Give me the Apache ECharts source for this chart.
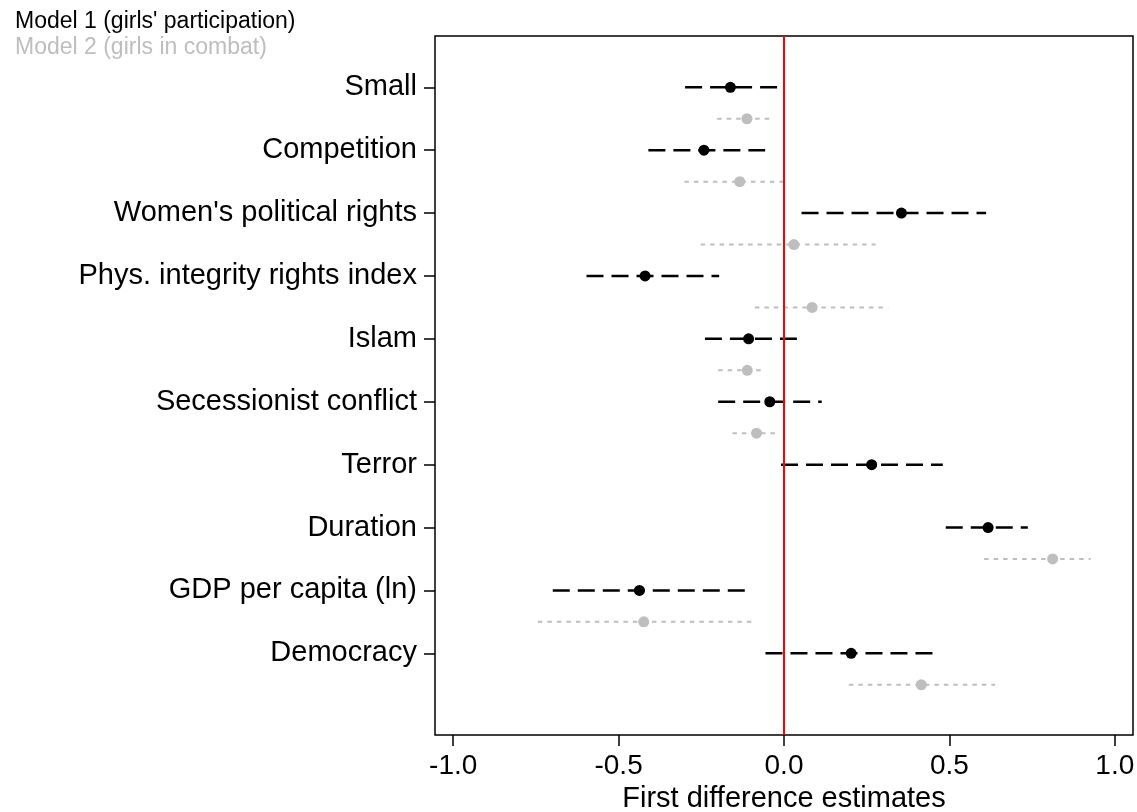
<!DOCTYPE html>
<html>
<head>
<meta charset="utf-8">
<script src="https://cdn.jsdelivr.net/npm/echarts@6/dist/echarts.min.js"></script>
<style>
html,body{margin:0;padding:0;background:#fff;}
#chart{width:1137px;height:812px;}
</style>
</head>
<body>
<div id="chart"></div>
<script>
// ---- data ----
const categories = ["Small","Competition","Women's political rights","Phys. integrity rights index","Islam","Secessionist conflict","Terror","Duration","GDP per capita (ln)","Democracy"];
const m1Est = [-0.162,-0.242,0.355,-0.420,-0.107,-0.043,0.265,0.617,-0.437,0.203];
const m1Lo  = [-0.299,-0.410,0.053,-0.597,-0.239,-0.199,-0.009,0.489,-0.699,-0.056];
const m1Hi  = [-0.020,-0.057,0.611,-0.196,0.039,0.114,0.480,0.737,-0.112,0.454];
const m2Est = [-0.112,-0.134,0.030,0.085,-0.111,-0.083,null,0.812,-0.424,0.415];
const m2Lo  = [-0.202,-0.301,-0.252,-0.088,-0.199,-0.156,null,0.605,-0.744,0.196];
const m2Hi  = [-0.044,-0.003,0.277,0.315,-0.066,-0.022,null,0.927,-0.092,0.638];
const xTicks = [-1.0,-0.5,0.0,0.5,1.0];
const legendLabels = ["Model 1 (girls' participation)","Model 2 (girls in combat)"];
const xName = "First difference estimates";

const FONT = "'Liberation Sans', Arial, Helvetica, sans-serif";
const M2_OFFSET = 0.5;

function ciData(lo, hi, offset){
  const out = [];
  for (let i = 0; i < lo.length; i++) {
    if (lo[i] == null) continue;
    out.push([lo[i], hi[i], i + offset]);
  }
  return out;
}
function ptData(est, offset){
  const out = [];
  for (let i = 0; i < est.length; i++) {
    if (est[i] == null) continue;
    out.push([est[i], i + offset]);
  }
  return out;
}
function ciSeries(data, color, width, dash){
  return {
    type: 'custom',
    data: data,
    encode: {x: [0, 1], y: 2},
    silent: true,
    z: 2,
    renderItem: function(params, api){
      const a = api.coord([api.value(0), api.value(2)]);
      const b = api.coord([api.value(1), api.value(2)]);
      return {
        type: 'line',
        shape: {x1: a[0], y1: a[1], x2: b[0], y2: b[1]},
        style: {stroke: color, lineWidth: width, lineDash: dash, fill: null}
      };
    }
  };
}

const chart = echarts.init(document.getElementById('chart'), null, {renderer: 'canvas'});
chart.setOption({
  animation: false,
  backgroundColor: '#ffffff',
  title: [
    {text: legendLabels[0], left: 10, top: 5, textStyle: {fontFamily: FONT, fontSize: 23, fontWeight: 'normal', color: '#000000'}},
    {text: legendLabels[1], left: 10, top: 31, textStyle: {fontFamily: FONT, fontSize: 23, fontWeight: 'normal', color: '#BEBEBE'}}
  ],
  grid: {left: 435, right: 4, top: 36, bottom: 77, show: true, borderColor: '#000', borderWidth: 1.5, containLabel: false, outerBoundsMode: 'none'},
  xAxis: {
    type: 'value', min: -1.055, max: 1.055,
    axisLine: {show: false, onZero: false},
    splitLine: {show: false},
    axisTick: {show: true, customValues: xTicks, length: 11, lineStyle: {color: '#000', width: 1.5}},
    axisLabel: {customValues: xTicks, formatter: v => v.toFixed(1), fontFamily: FONT, fontSize: 28, color: '#000', margin: 17},
    name: xName, nameLocation: 'middle', nameGap: 49,
    nameTextStyle: {fontFamily: FONT, fontSize: 29, color: '#000'}
  },
  yAxis: {
    type: 'value', inverse: true, min: -0.816, max: 10.299,
    axisLine: {show: false, onZero: false},
    splitLine: {show: false},
    axisTick: {show: true, customValues: categories.map((c, i) => i), length: 11, lineStyle: {color: '#000', width: 1.5}},
    axisLabel: {customValues: categories.map((c, i) => i), formatter: v => categories[Math.round(v)], fontFamily: FONT, fontSize: 29, color: '#000', margin: 18}
  },
  series: [
    ciSeries(ciData(m1Lo, m1Hi, 0), '#000000', 2.5, [17, 8]),
    ciSeries(ciData(m2Lo, m2Hi, M2_OFFSET), '#BEBEBE', 2, [4.5, 5]),
    {
      type: 'scatter', data: ptData(m1Est, 0), symbol: 'circle', symbolSize: 11,
      itemStyle: {color: '#000000', opacity: 1}, silent: true, z: 3,
      markLine: {
        silent: true, symbol: ['none', 'none'], label: {show: false},
        lineStyle: {color: '#FF0000', width: 2, type: 'solid'},
        data: [{xAxis: 0}]
      }
    },
    {
      type: 'scatter', data: ptData(m2Est, M2_OFFSET), symbol: 'circle', symbolSize: 11,
      itemStyle: {color: '#BEBEBE', opacity: 1}, silent: true, z: 3
    }
  ]
});
</script>
</body>
</html>
